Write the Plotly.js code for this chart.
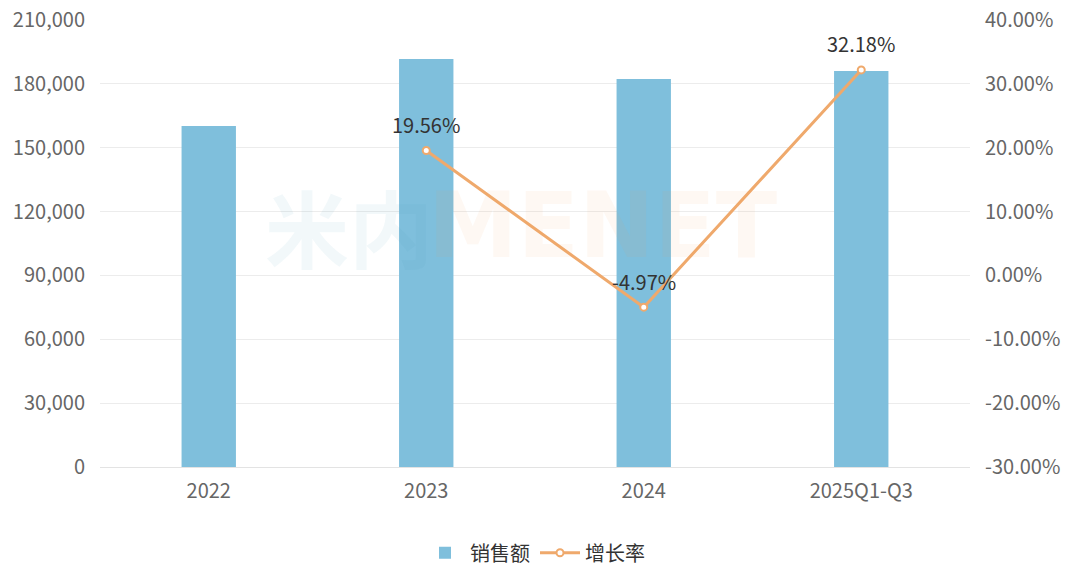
<!DOCTYPE html>
<html>
<head>
<meta charset="utf-8">
<script src="https://cdn.plot.ly/plotly-3.0.1.min.js"></script>
<style>html,body{margin:0;padding:0;background:#fff;}#chart{width:1080px;height:577px;}</style>
</head>
<body>
<div id="chart"></div>
<script>
const categories = ["2022", "2023", "2024", "2025Q1-Q3"];
const sales = [160200, 191700, 182300, 186000];
const growth = [null, 19.56, -4.97, 32.18];
const growthLabels = ["", "19.56%", "-4.97%", "32.18%"];
const leftTicks = [0, 30000, 60000, 90000, 120000, 150000, 180000, 210000];
const rightTicks = [-30, -20, -10, 0, 10, 20, 30, 40];

const FONT = '"Noto Sans CJK SC", "Noto Sans", sans-serif';

const traces = [
  {
    type: 'bar', name: '销售额', x: categories, y: sales,
    width: 0.25,
    marker: {color: '#7fbfdc', line: {width: 0}},
    hoverinfo: 'skip'
  },
  {
    type: 'scatter', mode: 'lines+markers', name: '增长率',
    x: categories, y: growth, yaxis: 'y2',
    line: {color: '#efa96c', width: 3},
    marker: {symbol: 'circle', size: 7, color: '#fff', line: {color: '#efa96c', width: 2}},
    connectgaps: false,
    cliponaxis: false,
    hoverinfo: 'skip'
  }
];

// category index positions on the category x axis
const labelAnnotations = categories.map((c, i) => growth[i] === null ? null : ({
  x: i, y: growth[i], xref: 'x', yref: 'y2', text: growthLabels[i], showarrow: false,
  yshift: 26, font: {family: FONT, size: 20, color: '#333'}
})).filter(a => a);

const layout = {
  width: 1080, height: 577,
  margin: {l: 100, r: 110, t: 20, b: 110, autoexpand: false},
  paper_bgcolor: '#fff', plot_bgcolor: '#fff',
  font: {family: FONT, size: 19, color: '#666'},
  showlegend: true,
  legend: {orientation: 'h', x: 0.5, xanchor: 'center', yref: 'container', y: 0.042, yanchor: 'middle',
           font: {family: FONT, size: 20, color: '#333'}, itemwidth: 40, traceorder: 'normal'},
  xaxis: {
    type: 'category', categoryorder: 'array', categoryarray: categories,
    range: [-0.5, categories.length - 0.5], automargin: false,
    showgrid: false, showline: true, linecolor: '#e3e3e3', linewidth: 1,
    ticks: '', tickfont: {family: FONT, size: 20, color: '#666'}, ticklabelstandoff: 6, zeroline: false
  },
  yaxis: {
    range: [0, 210000], tickvals: leftTicks, ticktext: leftTicks.map(v => v.toLocaleString('en-US')),
    showgrid: true, gridcolor: '#ececec', gridwidth: 1, zeroline: false, showline: false, automargin: false,
    ticks: '', ticklabelstandoff: 14, tickfont: {family: FONT, size: 20, color: '#666'}
  },
  yaxis2: {
    overlaying: 'y', side: 'right', range: [-30, 40], tickvals: rightTicks,
    ticktext: rightTicks.map(v => v.toFixed(2) + '%'), automargin: false,
    showgrid: false, zeroline: false, showline: false, ticks: '', ticklabelstandoff: 14,
    tickfont: {family: FONT, size: 20, color: '#666'}
  },
  annotations: [
    {xref: 'paper', yref: 'paper', x: 0.385, y: 0.54, xanchor: 'right', yanchor: 'middle', showarrow: false,
     text: '<b>米内</b>', font: {family: FONT, size: 84, color: 'rgba(70,150,190,0.07)'}},
    {xref: 'paper', yref: 'paper', x: 0.375, y: 0.54, xanchor: 'left', yanchor: 'middle', showarrow: false,
     text: '<b>MENET</b>', font: {family: '"DejaVu Sans", sans-serif', size: 90, color: 'rgba(245,150,80,0.07)'}}
  ].concat(labelAnnotations)
};

Plotly.newPlot('chart', traces, layout, {displayModeBar: false, staticPlot: true});
</script>
</body>
</html>
